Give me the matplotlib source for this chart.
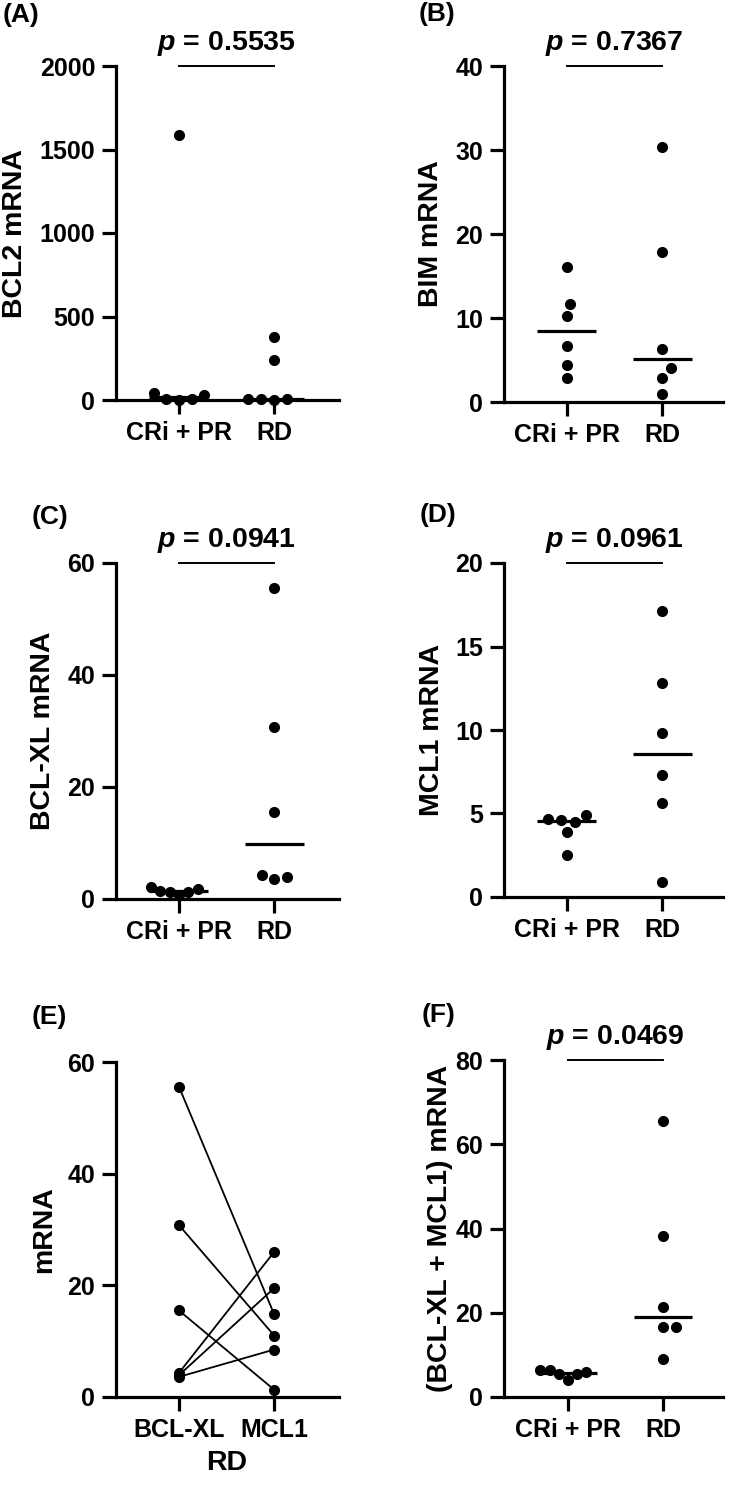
import numpy as np
import matplotlib
matplotlib.use("Agg")
import matplotlib.pyplot as plt

# ── fonts: Arial-like bold everywhere, bold italic "p" ──
plt.rcParams['font.family'] = ['Liberation Sans', 'DejaVu Sans']
plt.rcParams['font.weight'] = 'bold'
plt.rcParams['mathtext.fontset'] = 'custom'
plt.rcParams['mathtext.it'] = 'Liberation Sans:italic:bold'
plt.rcParams['mathtext.rm'] = 'Liberation Sans:bold'

# ── data ──
groups = ["CRi + PR", "RD"]

bcl2_cr = [1585, 40, 28, 5, 5, 2]
bcl2_rd = [380, 240, 5, 5, 4, 2]
bim_cr = [16.1, 11.7, 10.2, 6.7, 4.4, 2.8]
bim_rd = [30.4, 17.8, 6.3, 4.05, 2.9, 1.0]
bclxl_cr = [2.1, 1.7, 1.4, 1.3, 1.2, 0.8]
bclxl_rd = [55.6, 30.8, 15.5, 4.3, 3.9, 3.6]
mcl1_cr = [4.9, 4.7, 4.6, 4.5, 3.9, 2.5]
mcl1_rd = [17.1, 12.8, 9.8, 7.3, 5.6, 0.9]
sum_cr = [6.5, 6.3, 5.9, 5.5, 5.5, 4.0]
sum_rd = [65.5, 38.2, 21.4, 16.6, 16.6, 9.1]

# panel E: paired values in RD patients
pair_labels = ["BCL-XL", "MCL1"]
pair_bclxl = [55.6, 30.8, 15.5, 4.3, 3.9, 3.6]
pair_mcl1 = [14.8, 11.0, 1.3, 26.0, 19.5, 8.5]

W, H = 733, 1486
fig = plt.figure(figsize=(W / 100, H / 100), dpi=100)
fig.patch.set_facecolor('white')

TICK_FS = 18
LABEL_FS = 20.5
P_FS = 20.5
LETTER_FS = 19
LW = 2.3
MS = 7


def make_axes(left, top, right, bottom):
    # pixel box -> figure fraction
    return fig.add_axes([left / W, 1 - bottom / H, (right - left) / W, (bottom - top) / H])


def style_axes(ax, yticks, xlim, xticklabels):
    ax.set_ylim(0, yticks[-1])
    ax.set_yticks(yticks)
    ax.set_xlim(*xlim)
    ax.set_xticks(range(len(xticklabels)))
    ax.set_xticklabels(xticklabels)
    for s in ['top', 'right']:
        ax.spines[s].set_visible(False)
    for s in ['left', 'bottom']:
        ax.spines[s].set_linewidth(LW)
    ax.tick_params(axis='both', length=10, width=LW, labelsize=TICK_FS, direction='out')
    ax.tick_params(axis='y', pad=5)
    ax.tick_params(axis='x', pad=5)


def swarm_offsets(ax, values, diam_px=13, max_px=28):
    """Beeswarm-style horizontal offsets (in data units) to avoid overlapping dots."""
    bb = ax.get_window_extent()
    y0, y1 = ax.get_ylim()
    x0, x1 = ax.get_xlim()
    ypx = bb.height / (y1 - y0)
    xpx = bb.width / (x1 - x0)
    values = np.asarray(values, dtype=float)
    offs = np.zeros(len(values))
    placed = []
    for i in np.argsort(values, kind='stable'):
        y = values[i] * ypx
        cands = [0.0]
        for py, px in placed:
            dy = abs(y - py)
            if dy < diam_px:
                dx = np.sqrt(diam_px ** 2 - dy ** 2)
                cands += [px + dx, px - dx]
        cands.sort(key=abs)
        for c in cands:
            if all((c - px) ** 2 + (y - py) ** 2 >= diam_px ** 2 - 1e-6 for py, px in placed):
                break
        offs[i] = c
        placed.append((y, c))
    m = np.abs(offs).max()
    if m > max_px:
        offs *= max_px / m
    return offs / xpx


def dot_panel(ax, data, yticks, xlim, pval, ylabel, label_x):
    style_axes(ax, yticks, xlim, groups)
    for i, vals in enumerate(data):
        off = swarm_offsets(ax, vals)
        ax.plot(i + off, vals, 'o', color='black', ms=MS, clip_on=False, zorder=3)
        med = np.median(vals)
        ax.plot([i - 0.31, i + 0.31], [med, med], color='black', lw=LW, zorder=4,
                solid_capstyle='butt')
    top = yticks[-1]
    ax.plot([0, 1], [top, top], color='black', lw=1.4, clip_on=False)
    ax.annotate(r'$p$ = ' + pval, xy=(0.5, top), xytext=(0, 6), textcoords='offset points',
                ha='center', va='bottom', fontsize=P_FS, fontweight='bold')
    ax.set_ylabel(ylabel, fontsize=LABEL_FS, fontweight='bold')
    ax.yaxis.label.set_verticalalignment('center')
    ax.yaxis.set_label_coords(label_x, 0.5)


left_xlim = (-0.66, 1.68)
right_xlim = (-0.66, 1.64)

# (A) BCL2
axA = make_axes(116, 66, 339, 400)
dot_panel(axA, [bcl2_cr, bcl2_rd], [0, 500, 1000, 1500, 2000], left_xlim,
          "0.5535", "BCL2 mRNA", (15 - 116) / 223)

# (B) BIM
axB = make_axes(504, 66, 723, 402)
dot_panel(axB, [bim_cr, bim_rd], [0, 10, 20, 30, 40], right_xlim,
          "0.7367", "BIM mRNA", (431 - 504) / 219)

# (C) BCL-XL
axC = make_axes(116, 563, 339, 899)
dot_panel(axC, [bclxl_cr, bclxl_rd], [0, 20, 40, 60], left_xlim,
          "0.0941", "BCL-XL mRNA", (43 - 116) / 223)

# (D) MCL1
axD = make_axes(504, 563, 723, 897)
dot_panel(axD, [mcl1_cr, mcl1_rd], [0, 5, 10, 15, 20], right_xlim,
          "0.0961", "MCL1 mRNA", (432 - 504) / 219)

# (E) paired BCL-XL vs MCL1 in RD
axE = make_axes(116, 1062, 339, 1397)
style_axes(axE, [0, 20, 40, 60], left_xlim, pair_labels)
for a, b in zip(pair_bclxl, pair_mcl1):
    axE.plot([0, 1], [a, b], '-', color='black', lw=1.3, zorder=2)
axE.plot(np.zeros(len(pair_bclxl)), pair_bclxl, 'o', color='black', ms=MS, clip_on=False, zorder=3)
axE.plot(np.ones(len(pair_mcl1)), pair_mcl1, 'o', color='black', ms=MS, clip_on=False, zorder=3)
axE.set_ylabel("mRNA", fontsize=LABEL_FS, fontweight='bold')
axE.yaxis.label.set_verticalalignment('center')
axE.yaxis.set_label_coords((44 - 116) / 223, 0.5)
axE.set_xlabel("RD", fontsize=LABEL_FS, fontweight='bold')
axE.xaxis.label.set_verticalalignment('center')
axE.xaxis.set_label_coords(0.496, (1397 - 1463) / 335)

# (F) BCL-XL + MCL1
axF = make_axes(504, 1060, 723, 1397)
dot_panel(axF, [sum_cr, sum_rd], [0, 20, 40, 60, 80], (-0.674, 1.632),
          "0.0469", "(BCL-XL + MCL1) mRNA", (440 - 504) / 219)

# panel letters
for letter, x, y in [("(A)", 3, 3), ("(B)", 419, 2), ("(C)", 32, 505),
                     ("(D)", 420, 503), ("(E)", 32, 1005), ("(F)", 422, 1003)]:
    fig.text(x / W, 1 - y / H, letter, ha='left', va='top', fontsize=LETTER_FS, fontweight='bold')

fig.savefig("out.png", dpi=100)
